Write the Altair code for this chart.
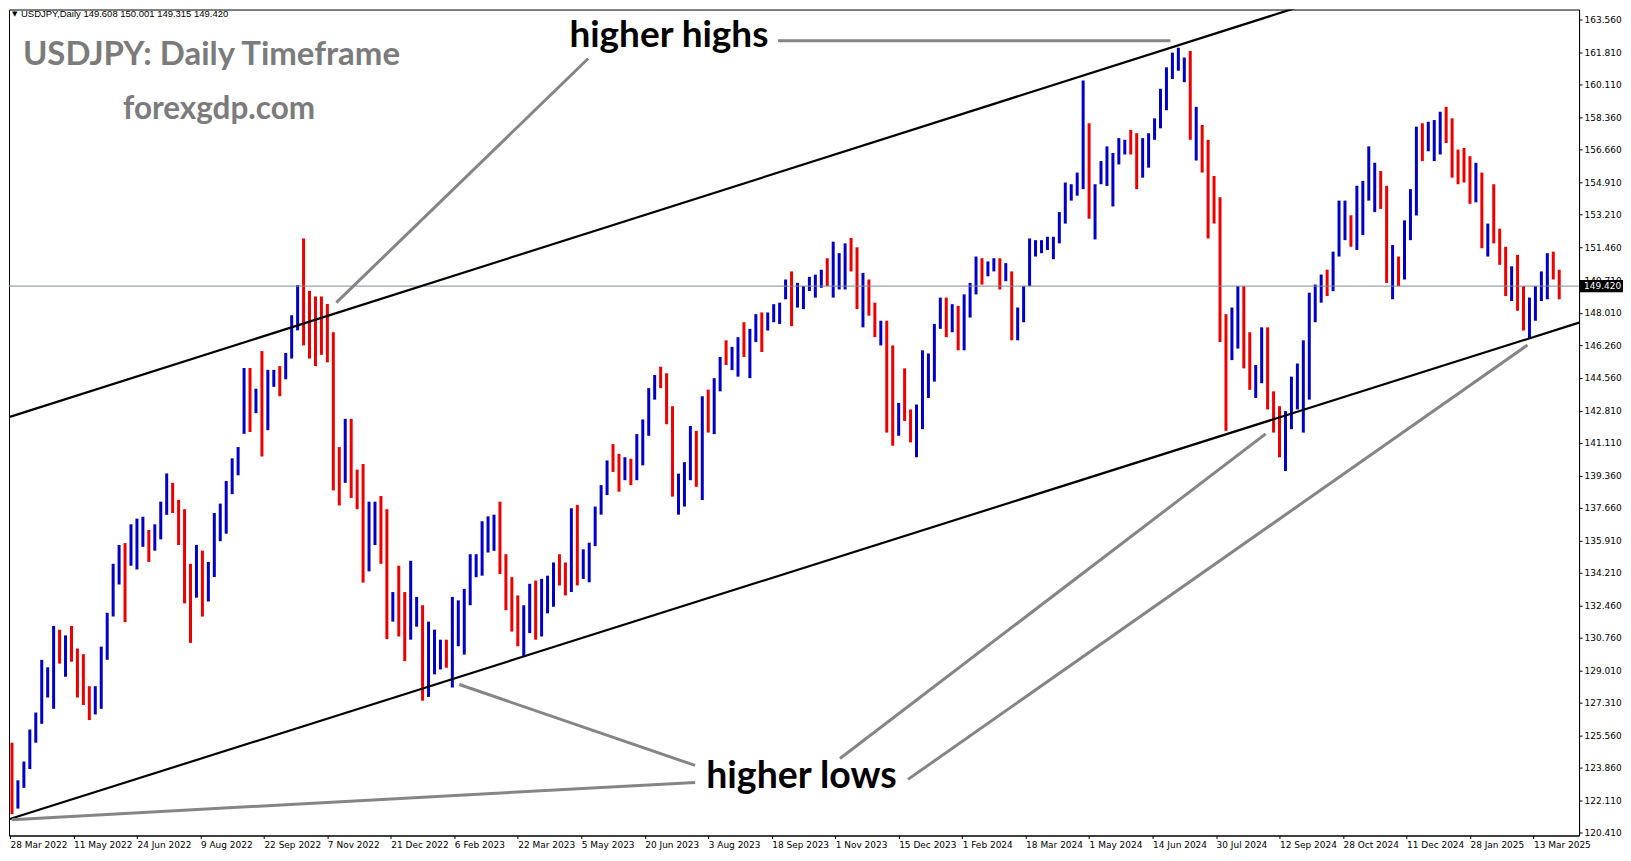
import altair as alt
import pandas as pd

# ---- data: 3-day aggregated bars (high, low, direction) ----
days_per_bar = 3
highs = [125.17,123.17,124.17,125.87,126.77,129.57,129.17,131.37,131.17,130.87,131.37,130.17,129.87,128.17,128.17,130.27,132.07,134.67,135.67,135.77,
136.77,137.07,137.17,136.47,136.77,137.97,139.47,138.97,138.07,137.57,134.67,135.67,135.37,134.77,137.37,137.87,139.07,140.27,140.87,145.07,
145.07,143.97,145.97,144.97,144.97,145.17,145.87,147.87,149.47,151.95,149.17,148.87,148.87,148.47,146.97,140.87,142.37,142.37,139.67,139.97,
137.97,137.97,138.27,137.57,133.17,134.57,133.17,134.83,132.91,132.47,131.60,131.17,130.64,130.64,132.91,132.73,133.34,135.18,135.18,136.93,
137.19,137.28,137.97,135.18,133.96,132.99,132.47,133.61,133.78,133.87,134.04,134.74,135.18,134.74,137.62,137.80,135.44,135.79,137.71,138.85,
140.16,141.03,140.51,140.33,140.25,141.56,142.34,144.00,144.70,145.14,144.79,143.04,139.46,140.07,141.99,141.73,143.57,143.92,144.53,145.66,
146.54,146.19,146.71,147.50,147.15,147.93,148.02,148.02,148.46,148.54,149.77,150.20,149.59,149.42,149.91,150.03,150.29,150.90,151.78,151.17,
151.69,151.98,151.48,150.12,149.77,148.54,147.58,147.58,146.27,143.22,145.05,142.87,143.13,146.01,145.84,147.41,148.81,148.81,148.46,148.37,
148.98,149.59,150.99,150.90,150.73,150.90,150.90,150.64,150.20,148.28,149.42,151.95,151.86,151.86,152.04,152.04,153.35,154.92,154.83,155.45,
160.34,158.07,154.83,156.06,156.84,156.49,157.28,157.19,157.72,157.54,157.28,157.54,158.33,159.90,161.04,161.82,162.08,161.56,161.91,158.94,
157.98,157.19,155.27,154.14,147.93,148.28,149.42,149.42,146.97,145.23,147.23,147.23,143.83,143.04,142.78,144.61,145.31,146.54,149.07,149.50,
150.03,150.29,151.25,153.96,153.96,153.18,154.75,155.01,156.84,155.97,155.53,154.75,151.60,150.99,152.91,154.57,157.89,158.07,158.15,158.24,
158.68,158.94,158.33,156.67,156.76,156.32,155.97,155.45,152.74,154.83,152.47,151.51,150.47,151.08,149.42,148.81,149.42,150.20,151.17,151.25,
150.29]
lows = [121.37,121.67,122.77,123.77,125.17,126.17,127.57,126.97,129.37,128.67,129.47,127.57,127.17,126.37,126.67,126.97,129.57,131.87,133.57,131.57,
134.57,134.37,135.57,134.77,135.37,135.97,137.27,137.37,135.67,132.57,130.47,132.87,131.87,132.67,133.97,135.87,136.27,138.37,139.37,141.57,
141.67,142.67,140.37,141.77,144.07,143.57,144.47,145.57,147.07,146.27,145.57,145.17,145.77,145.37,138.57,137.77,138.97,138.17,137.57,133.67,
134.27,135.67,134.67,130.67,131.60,130.81,129.50,130.64,131.33,127.40,127.60,128.80,129.06,129.15,128.10,130.29,129.85,132.47,133.96,134.04,
135.27,135.36,134.13,132.21,131.07,130.29,129.76,130.99,130.64,130.81,132.04,132.39,133.52,132.99,133.17,133.52,133.87,133.69,135.61,137.28,
138.32,139.55,138.50,139.11,138.85,139.11,139.90,141.47,143.39,144.00,142.08,138.24,137.28,137.71,139.11,138.76,138.06,141.64,141.56,143.83,
145.23,144.96,144.61,145.66,144.53,146.45,145.92,147.06,147.50,147.41,148.72,147.29,148.28,148.20,149.16,148.81,149.33,149.42,148.81,149.24,
149.24,150.20,148.20,147.23,147.85,146.71,146.27,141.64,140.94,141.47,142.26,141.12,140.33,141.82,143.48,144.35,147.15,146.71,146.97,146.01,
146.01,147.75,148.98,149.50,149.94,150.20,149.24,149.68,146.54,146.54,147.50,149.42,150.99,151.17,151.34,150.85,151.69,152.74,153.96,154.22,
154.57,153.00,151.90,154.83,154.74,153.65,155.88,156.41,156.41,154.57,155.18,155.71,157.19,157.80,158.76,160.42,160.86,160.25,157.19,156.09,
155.45,151.95,152.74,146.45,141.73,145.49,146.10,145.05,143.91,143.48,144.26,142.87,141.64,140.33,139.60,141.82,142.87,141.64,143.39,147.50,
148.54,148.89,149.15,150.99,151.86,151.51,151.34,152.13,153.96,153.35,153.52,149.59,148.72,149.42,149.77,151.86,153.17,156.06,156.58,156.06,
156.41,157.02,155.18,154.83,154.92,153.79,153.87,151.43,150.99,151.69,150.55,148.89,148.63,148.11,147.06,146.62,147.58,148.63,148.72,149.77,
148.72]
dirs = ("RBBBBBBBRBRRRRBBBBBR" "BBBRBBBRRRRBRBBBBBBB" "RBRBBRBBBRRRRRRRBRRR" "BBRRBRRBBRBBBRBBBBBB"
        "BBRRRRBBRBBBRRBRBBBB" "BRRBRBBBBRRRBBBRBRBB" "RBBRBBRBBBBRBBBBBRBB" "BRRBRRBRRBRRBBBBBRBR"
        "BBBRBBRBRBBBBBBBBBBB" "BRBBBBBBRRBBBBBBBBRB" "RRRRRBBRRBBRRRBBBBBB" "BRBBBRBBBBRRBRBBBRBB"
        "BRRRRRBRBRRRBRRBBBBR" "R")

date_labels = ['28 Mar 2022','11 May 2022','24 Jun 2022','9 Aug 2022','22 Sep 2022','7 Nov 2022',
               '21 Dec 2022','6 Feb 2023','22 Mar 2023','5 May 2023','20 Jun 2023','3 Aug 2023',
               '18 Sep 2023','1 Nov 2023','15 Dec 2023','1 Feb 2024','18 Mar 2024','1 May 2024',
               '14 Jun 2024','30 Jul 2024','12 Sep 2024','28 Oct 2024','11 Dec 2024','28 Jan 2025',
               '13 Mar 2025']
label_step = 32
price_labels = [163.56,161.81,160.11,158.36,156.66,154.91,153.21,151.46,149.71,148.01,146.26,144.56,
                142.81,141.11,139.36,137.66,135.91,134.21,132.46,130.76,129.01,127.31,125.56,123.86,
                122.11,120.41]
last_price = 149.42
header = "USDJPY,Daily  149.608 150.001 149.315 149.420"

# channel lines (bar index, price)
chan_x1 = [-0.5, -0.5]
chan_p1 = [142.46, 121.10]
chan_x2 = [791, 791]
chan_p2 = [168.98, 147.48]

# grey pointer lines (bar index, price)
ann_x1 = [387.2, 291.5, 345.4, 345.4, 418.4, 452.7]
ann_p1 = [162.45, 161.51, 123.96, 123.06, 124.33, 123.22]
ann_x2 = [585, 164.5, 226.5, 1, 633, 765]
ann_p2 = [162.45, 148.54, 128.26, 121.08, 141.57, 146.29]

W, H = 1572, 827

n = min(len(highs), len(lows), len(dirs))
bars = pd.DataFrame({
    "i": [days_per_bar * g + 1 for g in range(n)],
    "high": highs[:n], "low": lows[:n],
    "dir": ["up" if d == "B" else "down" for d in dirs[:n]],
})

xs = alt.Scale(domain=[-0.5, 791], nice=False, zero=False)
ys = alt.Scale(domain=[120.24, 164.11], nice=False, zero=False)

label_expr = "[" + ",".join("'%s'" % d for d in date_labels) + "][round(datum.value/%d)]" % label_step

x_axis = alt.Axis(values=[label_step * k for k in range(len(date_labels))], labelExpr=label_expr,
                  labelAlign="left", labelPadding=2, tickSize=3, labelFlush=False, labelOverlap=False,
                  labelFont="DejaVu Sans", labelFontSize=9, labelColor="black", tickColor="black",
                  domainColor="black", grid=False, title=None)
y_axis = alt.Axis(orient="right", values=price_labels, format=".3f", tickSize=3, labelPadding=2,
                  labelFont="DejaVu Sans", labelFontSize=9, labelColor="black", tickColor="black",
                  domainColor="black", grid=False, title=None, labelOverlap=False, labelFlush=False)


def X(f):
    return alt.X(f, scale=xs, axis=x_axis)


def Y(f):
    return alt.Y(f, scale=ys, axis=y_axis)


bar_layer = alt.Chart(bars).mark_rule(strokeWidth=3).encode(
    x=X("i:Q"), y=Y("low:Q"), y2="high:Q",
    color=alt.Color("dir:N", scale=alt.Scale(domain=["up", "down"], range=["#0000c8", "#ee0000"]), legend=None),
)

price_line = alt.Chart(pd.DataFrame({"p": [last_price]})).mark_rule(color="#7d8b99", strokeWidth=1).encode(
    y=Y("p:Q"))

chan = pd.DataFrame({"x1": chan_x1, "p1": chan_p1, "x2": chan_x2, "p2": chan_p2})
chan_layer = alt.Chart(chan).mark_rule(color="black", strokeWidth=2.2, clip=True).encode(
    x=X("x1:Q"), y=Y("p1:Q"), x2="x2:Q", y2="p2:Q")

ann = pd.DataFrame({"x1": ann_x1, "p1": ann_p1, "x2": ann_x2, "p2": ann_p2})
ann_layer = alt.Chart(ann).mark_rule(color="#858585", strokeWidth=3).encode(
    x=X("x1:Q"), y=Y("p1:Q"), x2="x2:Q", y2="p2:Q")


def label(t, i, p, size, color, font="Lato"):
    return alt.Chart(pd.DataFrame({"t": [t], "i": [i], "p": [p]})).mark_text(
        align="left", baseline="middle", font=font, fontSize=size, fontWeight="bold", color=color
    ).encode(x=X("i:Q"), y=Y("p:Q"), text="t:N")


t_title = label("USDJPY: Daily Timeframe", 6.5, 161.72, 33, "#7b7b7b")
t_site = label("forexgdp.com", 57, 158.75, 31.5, "#7b7b7b")
t_hh = label("higher highs", 282, 162.7, 37, "black")
t_hl = label("higher lows", 351, 123.36, 37.5, "black")

tri = alt.Chart(pd.DataFrame({"t": ["\u25BC"]})).mark_text(
    align="left", baseline="middle", font="DejaVu Sans", fontSize=7, color="black"
).encode(x=alt.value(3), y=alt.value(4), text="t:N")
head = alt.Chart(pd.DataFrame({"t": [header]})).mark_text(
    align="left", baseline="middle", font="Liberation Sans", fontSize=9.5, color="black"
).encode(x=alt.value(12), y=alt.value(4), text="t:N")

tag = pd.DataFrame({"p1": [last_price + 0.32], "p2": [last_price - 0.32], "p": [last_price],
                    "t": ["%.3f" % last_price]})
tag_rect = alt.Chart(tag).mark_rect(color="black").encode(
    x=alt.value(W + 1), x2=alt.value(W + 44), y=Y("p1:Q"), y2="p2:Q")
tag_text = alt.Chart(tag).mark_text(align="left", baseline="middle", font="DejaVu Sans", fontSize=9,
                                    color="white").encode(
    x=alt.value(W + 5), y=Y("p:Q"), text="t:N")

chart = alt.layer(
    bar_layer, price_line, chan_layer, ann_layer, t_title, t_site, t_hh, t_hl, tri, head, tag_rect, tag_text
).properties(
    width=W, height=H, padding={"left": 0, "top": 0, "right": 0, "bottom": 0}, background="white"
).configure_view(stroke="black", strokeWidth=1)

chart.save("out.html", embed_options={"renderer": "svg", "actions": False})
